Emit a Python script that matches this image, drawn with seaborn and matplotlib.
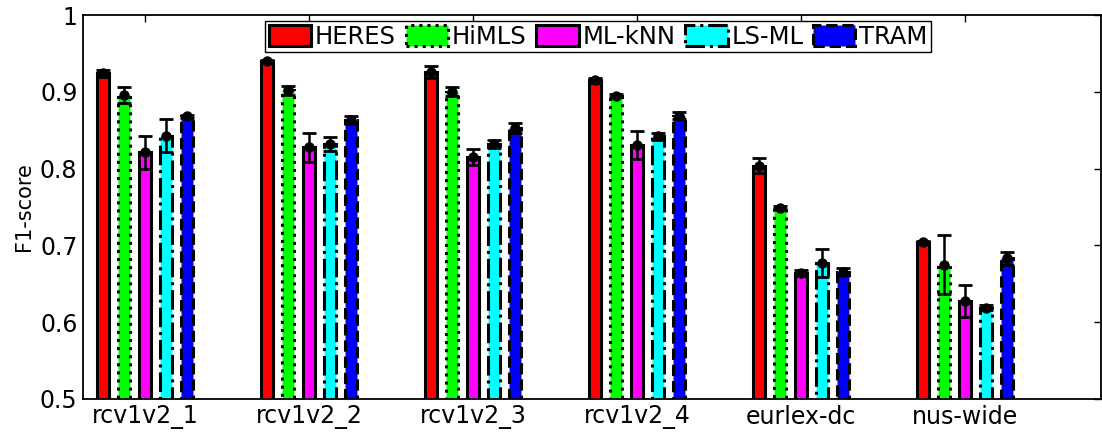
import numpy as np
import pandas as pd
import matplotlib
matplotlib.use("Agg")
import matplotlib.pyplot as plt
import seaborn as sns

# Datasets, methods and mean F1-score / standard deviation per method
datasets = ["rcv1v2_1", "rcv1v2_2", "rcv1v2_3", "rcv1v2_4", "eurlex-dc", "nus-wide"]
methods = ["HERES", "HiMLS", "ML-kNN", "LS-ML", "TRAM"]

heres_mean = [0.924, 0.940, 0.926, 0.915, 0.804, 0.704]
himls_mean = [0.896, 0.902, 0.900, 0.895, 0.749, 0.675]
mlknn_mean = [0.821, 0.828, 0.815, 0.831, 0.664, 0.628]
lsml_mean = [0.843, 0.832, 0.832, 0.842, 0.677, 0.619]
tram_mean = [0.868, 0.863, 0.853, 0.869, 0.666, 0.683]

heres_std = [0.005, 0.002, 0.008, 0.003, 0.010, 0.002]
himls_std = [0.010, 0.006, 0.006, 0.002, 0.002, 0.038]
mlknn_std = [0.021, 0.019, 0.010, 0.018, 0.004, 0.021]
lsml_std = [0.021, 0.009, 0.005, 0.005, 0.018, 0.003]
tram_std = [0.002, 0.005, 0.006, 0.005, 0.004, 0.008]

ytick_labels = ["0.5", "0.6", "0.7", "0.8", "0.9", "1"]

means = [heres_mean, himls_mean, mlknn_mean, lsml_mean, tram_mean]
stds = [heres_std, himls_std, mlknn_std, lsml_std, tram_std]

df = pd.DataFrame({
    "dataset": np.tile(datasets, len(methods)),
    "method": np.repeat(methods, len(datasets)),
    "f1": np.concatenate(means),
})

colors = ["#ff0000", "#00ff00", "#ff00ff", "#00ffff", "#0000ff"]
edge_styles = ["-", ":", "-", "-.", "--"]

sns.set_style("white")
plt.rcParams["font.family"] = ["DejaVu Sans"]
plt.rcParams["text.color"] = "black"
plt.rcParams["axes.labelcolor"] = "black"
plt.rcParams["xtick.color"] = "black"
plt.rcParams["ytick.color"] = "black"

fig = plt.figure(figsize=(11.02, 4.33), dpi=100)
ax = fig.add_axes([83 / 1102, 1 - 399 / 433, (1101 - 83) / 1102, (399 - 15) / 433])

sns.barplot(data=df, x="dataset", y="f1", hue="method", order=datasets,
            hue_order=methods, palette=colors, saturation=1, width=0.64,
            gap=0.42, edgecolor="black", linewidth=2.2, errorbar=None, ax=ax,
            legend=False)

bar_groups = list(ax.containers)

# Edge line styles per method, then error bars on each bar
for cont, ls, m, s in zip(bar_groups, edge_styles, means, stds):
    xs = []
    for p in cont.patches:
        p.set_linestyle(ls)
        p.set_zorder(2)
        xs.append(p.get_x() + p.get_width() / 2)
    ax.errorbar(xs, m, yerr=s, fmt="o", color="black", markersize=6.5,
                elinewidth=1.8, capsize=5, capthick=2.0, zorder=4)

ax.set_xlim(-0.378, 5.83)
ax.set_ylim(0.5, 1.0)
ax.set_yticks(np.arange(0.5, 1.01, 0.1))
ax.set_yticklabels(ytick_labels)
ax.set_xlabel("")
ax.set_ylabel("F1-score", fontsize=15, labelpad=4)

ax.tick_params(axis="both", direction="in", length=5, width=1,
               top=True, right=True, labelsize=17, pad=4, color="black",
               labelcolor="black")
for sp in ax.spines.values():
    sp.set_visible(True)
    sp.set_color("black")
    sp.set_linewidth(1.3)

handles = [c.patches[0] for c in bar_groups]
leg = ax.legend(handles, methods, loc="upper center", ncol=5,
                bbox_to_anchor=(598 / 1102, 1 - 21 / 433),
                bbox_transform=fig.transFigure, fontsize=17.5,
                handlelength=1.75, handleheight=0.95, handletextpad=0.15,
                columnspacing=0.4, borderpad=0.15, borderaxespad=0,
                fancybox=False, framealpha=1, edgecolor="black")
leg.get_frame().set_linewidth(1.0)

fig.savefig("out.png", dpi=100)
